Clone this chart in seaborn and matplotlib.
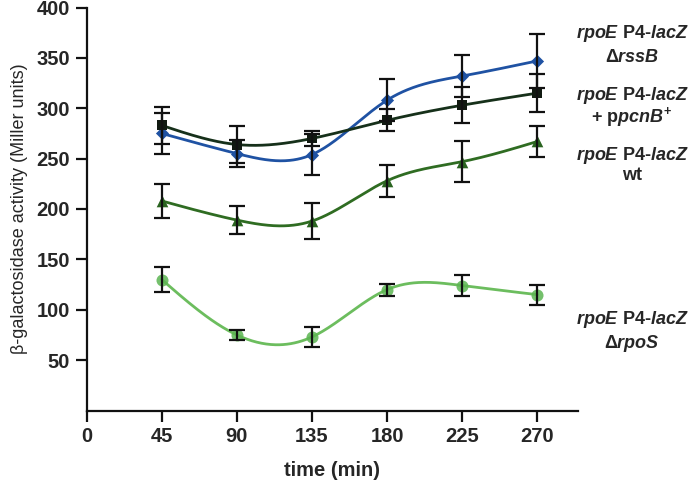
import numpy as np
import pandas as pd
import matplotlib
matplotlib.use("Agg")
import matplotlib.pyplot as plt
import seaborn as sns

# ---- data ----
time = [45, 90, 135, 180, 225, 270]
rssB = [275, 255, 254, 308, 332, 347]
rssB_err = [20, 13, 20, 21, 21, 27]
pcnB = [283, 264, 270, 288, 303, 315]
pcnB_err = [18, 18, 7, 11, 18, 19]
wt = [208, 189, 188, 228, 247, 267]
wt_err = [17, 14, 18, 16, 20, 15]
rpoS = [130, 75, 73, 120, 124, 115]
rpoS_err = [12, 5, 10, 6, 10, 10]
xticks = [0, 45, 90, 135, 180, 225, 270]
yticks = [50, 100, 150, 200, 250, 300, 350, 400]

sns.set_style("ticks")
plt.rcParams['font.family'] = ['Liberation Sans', 'DejaVu Sans']
plt.rcParams['mathtext.fontset'] = 'custom'
plt.rcParams['mathtext.rm'] = 'Liberation Sans:bold'
plt.rcParams['mathtext.it'] = 'Liberation Sans:bold:italic'
plt.rcParams['mathtext.bf'] = 'Liberation Sans:bold'

W, H = 693, 480
fig = plt.figure(figsize=(W / 100, H / 100), dpi=100)
ax = fig.add_axes([86.6 / W, 1 - 410.5 / H, (578 - 86.6) / W, (410.5 - 7.5) / H])


def natural_spline(x, y, xs):
    x = np.asarray(x, float); y = np.asarray(y, float)
    n = len(x); h = np.diff(x)
    A = np.zeros((n, n)); b = np.zeros(n)
    A[0, 0] = 1; A[-1, -1] = 1
    for i in range(1, n - 1):
        A[i, i - 1] = h[i - 1]; A[i, i] = 2 * (h[i - 1] + h[i]); A[i, i + 1] = h[i]
        b[i] = 3 * ((y[i + 1] - y[i]) / h[i] - (y[i] - y[i - 1]) / h[i - 1])
    c = np.linalg.solve(A, b)
    out = np.empty_like(xs)
    for k, xv in enumerate(xs):
        i = min(max(np.searchsorted(x, xv) - 1, 0), n - 2)
        bi = (y[i + 1] - y[i]) / h[i] - h[i] * (2 * c[i] + c[i + 1]) / 3
        di = (c[i + 1] - c[i]) / (3 * h[i])
        dx = xv - x[i]
        out[k] = y[i] + bi * dx + c[i] * dx ** 2 + di * dx ** 3
    return out


series = [
    ("rssB", rssB, rssB_err, '#1f52a3', '#1f52a3', 'D', 45),
    ("pcnB", pcnB, pcnB_err, '#16301a', '#111a11', 's', 55),
    ("wt", wt, wt_err, '#2f6c22', '#2a6420', '^', 70),
    ("rpoS", rpoS, rpoS_err, '#6cbd5e', '#5cb552', 'o', 75),
]

xs = np.linspace(45, 270, 400)
for name, y, e, lc, mc, mk, ms in series:
    curve = pd.DataFrame({"t": xs, "v": natural_spline(time, y, xs)})
    sns.lineplot(data=curve, x="t", y="v", color=lc, lw=2.0, ax=ax, zorder=2)
    pts = pd.DataFrame({"t": time, "v": y})
    sns.scatterplot(data=pts, x="t", y="v", marker=mk, s=ms, color=mc,
                    edgecolor=mc, linewidth=0, ax=ax, zorder=3,
                    alpha=0.85 if name == "rpoS" else 1.0)
    ax.errorbar(time, y, yerr=e, fmt='none', ecolor='#111111', elinewidth=1.6,
                capsize=6, capthick=1.6, zorder=4)

ax.set_xlim(0, 294.4)
ax.set_ylim(0, 400)
ax.set_xticks(xticks)
ax.set_yticks(yticks)
ax.set_xticklabels([str(v) for v in xticks], fontsize=14.5, fontweight='bold')
ax.set_yticklabels([str(v) for v in yticks], fontsize=14.5, fontweight='bold')
ax.tick_params(axis='both', length=8, width=1.6, color='#111111', pad=4)
for s in ['top', 'right']:
    ax.spines[s].set_visible(False)
for s in ['left', 'bottom']:
    ax.spines[s].set_linewidth(1.6)
    ax.spines[s].set_color('#111111')

ax.set_xlabel("time (min)", fontsize=14.5, fontweight='bold', labelpad=11)
ax.set_ylabel("β-galactosidase activity (Miller units)", fontsize=13, labelpad=6)

labels = [
    (33, r"$\mathit{rpoE}$ P4-$\mathit{lacZ}$"), (57, r"Δ$\mathit{rssB}$"),
    (96, r"$\mathit{rpoE}$ P4-$\mathit{lacZ}$"), (117, r"+ p$\mathit{pcnB}^{+}$"),
    (155, r"$\mathit{rpoE}$ P4-$\mathit{lacZ}$"), (176, "wt"),
    (320, r"$\mathit{rpoE}$ P4-$\mathit{lacZ}$"), (343, r"Δ$\mathit{rpoS}$"),
]
for py, txt in labels:
    fig.text(632 / W, 1 - py / H, txt, ha='center', va='center', fontsize=13,
             fontweight='bold')

fig.savefig("out.png", dpi=100)
